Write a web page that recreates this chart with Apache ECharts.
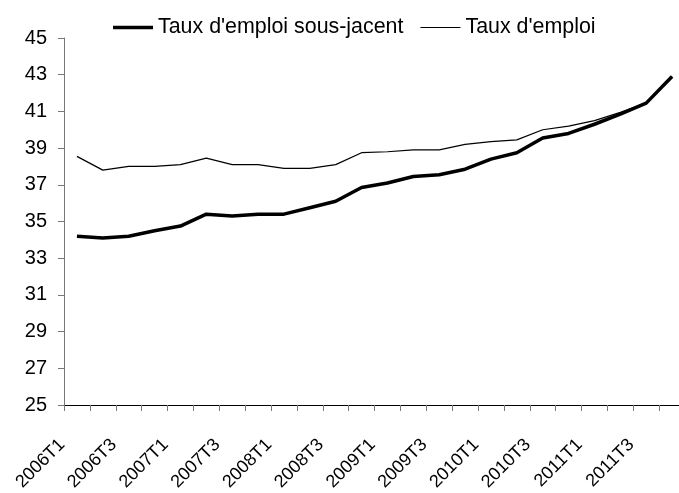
<!DOCTYPE html>
<html>
<head>
<meta charset="utf-8">
<script src="https://cdn.jsdelivr.net/npm/echarts@6/dist/echarts.min.js"></script>
<style>html,body{margin:0;padding:0;background:#fff}#c{width:679px;height:493px}</style>
</head>
<body>
<div id="c"></div>
<script>
const categories = ['2006T1','2006T2','2006T3','2006T4','2007T1','2007T2','2007T3','2007T4','2008T1','2008T2','2008T3','2008T4','2009T1','2009T2','2009T3','2009T4','2010T1','2010T2','2010T3','2010T4','2011T1','2011T2','2011T3','2011T4'];
const sousJacent = [34.2,34.1,34.2,34.5,34.75,35.4,35.3,35.4,35.4,35.75,36.1,36.85,37.1,37.45,37.55,37.85,38.4,38.75,39.55,39.8,40.3,40.85,41.45,42.9];
const tauxEmploi = [38.55,37.8,38.0,38.0,38.1,38.45,38.1,38.1,37.9,37.9,38.1,38.75,38.8,38.9,38.9,39.2,39.35,39.45,40.0,40.2,40.5,40.95,41.45,42.9];
const yTicks = {min:25, max:45, interval:2};

const FONT = 'Liberation Sans, Arial, sans-serif';
const chart = echarts.init(document.getElementById('c'));
chart.setOption({
  animation: false,
  backgroundColor: '#fff',
  textStyle: {fontFamily: FONT},
  legend: {
    top: 12, left: 108,
    itemWidth: 40, itemHeight: 14, itemGap: 17,
    symbolKeepAspect: true,
    textStyle: {fontSize: 21.4, color: '#000', fontFamily: FONT},
    data: [
      {name: "Taux d'emploi sous-jacent", icon: 'path://M0,0 L40,0 L40,3.5 L0,3.5 Z', itemStyle: {color: '#000'}},
      {name: "Taux d'emploi", icon: 'path://M0,0 L40,0 L40,1.2 L0,1.2 Z', itemStyle: {color: '#000'}}
    ]
  },
  grid: {left: 64, width: 621, top: 38, bottom: 88, outerBoundsMode: 'none', containLabel: false},
  xAxis: {
    type: 'category',
    data: categories,
    boundaryGap: true,
    axisLine: {lineStyle: {color: '#000', width: 1}},
    axisTick: {show: true, interval: 0, length: 6, lineStyle: {color: '#777'}},
    axisLabel: {interval: 1, rotate: 45, fontSize: 18, color: '#000', fontFamily: FONT, margin: 22, padding: [0, 21, 0, 0]},
    splitLine: {show: false}
  },
  yAxis: {
    type: 'value',
    min: yTicks.min, max: yTicks.max, interval: yTicks.interval,
    axisLine: {show: true, lineStyle: {color: '#777', width: 1}},
    axisTick: {show: true, length: 6, lineStyle: {color: '#777'}},
    axisLabel: {fontSize: 20, color: '#000', fontFamily: FONT, margin: 17},
    splitLine: {show: false}
  },
  series: [
    {name: "Taux d'emploi sous-jacent", type: 'line', data: sousJacent, symbol: 'none',
     lineStyle: {color: '#000', width: 3.5}, itemStyle: {color: '#000'}},
    {name: "Taux d'emploi", type: 'line', data: tauxEmploi, symbol: 'none',
     lineStyle: {color: '#000', width: 1.2}, itemStyle: {color: '#000'}}
  ]
});
</script>
</body>
</html>
